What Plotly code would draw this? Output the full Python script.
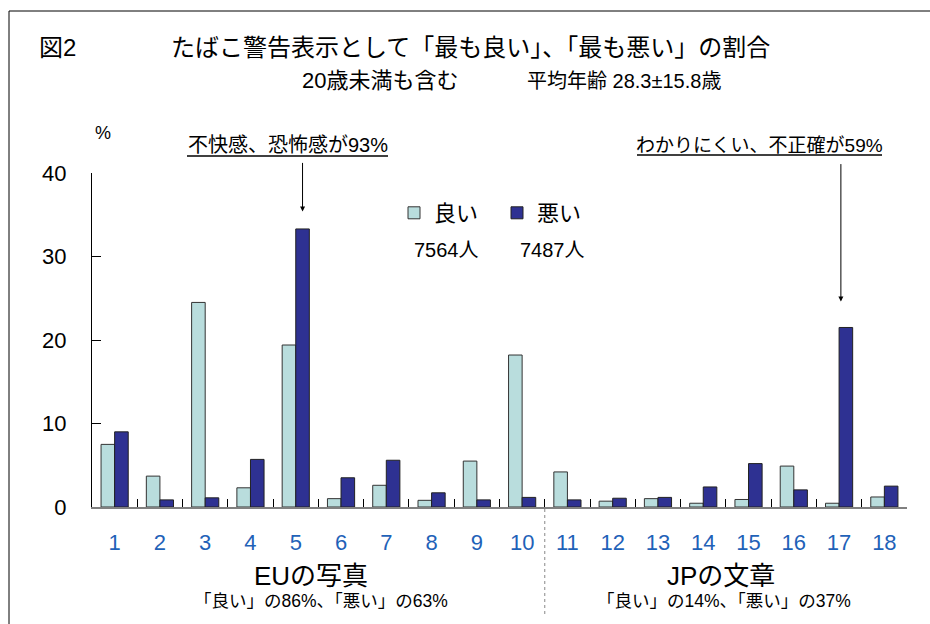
import plotly.graph_objects as go

categories = [str(i) for i in range(1, 19)]
good = [7.5, 3.7, 24.5, 2.3, 19.4, 1.0, 2.6, 0.8, 5.5, 18.2,
        4.2, 0.7, 1.0, 0.45, 0.9, 4.9, 0.45, 1.2]
bad = [9.0, 0.85, 1.1, 5.7, 33.3, 3.5, 5.6, 1.7, 0.85, 1.15,
       0.85, 1.05, 1.15, 2.4, 5.2, 2.05, 21.5, 2.5]
series_names = ["良い", "悪い"]
counts = ["7564人", "7487人"]
y_ticks = [0, 10, 20, 30, 40]

W, H = 930, 624
L, R, T, B = 92, 23, 173, 117
PW, PH = W - L - R, H - T - B


def px(x):
    return (x - L) / PW


def py(y):
    return (H - B - y) / PH


FONT = "Liberation Sans, Arial, Noto Sans CJK JP, sans-serif"
GOOD_C = "#B9DDDD"
BAD_C = "#2E3192"

fig = go.Figure()
fig.add_trace(go.Bar(x=categories, y=good, name=series_names[0],
                     marker=dict(color=GOOD_C, line=dict(color="#333333", width=1))))
fig.add_trace(go.Bar(x=categories, y=bad, name=series_names[1],
                     marker=dict(color=BAD_C, line=dict(color="#222222", width=1))))

fig.update_layout(
    width=W, height=H,
    margin=dict(l=L, r=R, t=T, b=B),
    paper_bgcolor="white", plot_bgcolor="white",
    barmode="group", bargap=0.40, bargroupgap=0,
    font=dict(family=FONT, color="black"),
    showlegend=True,
    legend=dict(orientation="h", x=px(394), y=py(213), xanchor="left", yanchor="middle",
                font=dict(size=22, family=FONT), bgcolor="rgba(0,0,0,0)",
                entrywidth=58, entrywidthmode="pixels", itemwidth=30),
)
fig.update_xaxes(
    type="category", showline=True, linecolor="#808080", linewidth=2,
    ticks="inside", tickson="boundaries", ticklen=8, tickcolor="black", tickwidth=1,
    tickfont=dict(size=22, color="#1F62B8", family=FONT), ticklabelstandoff=15,
    showgrid=False, zeroline=False, fixedrange=True,
)
fig.update_yaxes(
    range=[0, 40], tickvals=y_ticks, showline=True, linecolor="black", linewidth=1,
    ticks="inside", ticklen=9, tickcolor="black", tickwidth=1,
    tickfont=dict(size=22, color="black", family=FONT), ticklabelstandoff=20,
    showgrid=False, zeroline=False, fixedrange=True,
)

shapes = [
    # outer frame
    dict(type="rect", xref="paper", yref="paper", x0=px(9), x1=px(960), y0=py(660), y1=py(11),
         line=dict(color="black", width=1), fillcolor="rgba(0,0,0,0)", layer="below"),
    # divider between groups
    dict(type="line", xref="x", yref="paper", x0=9.5, x1=9.5, y0=py(509), y1=py(616),
         line=dict(color="#888888", width=1, dash="dot")),
    # underlines of the callouts
    dict(type="line", xref="paper", yref="paper", x0=px(187), x1=px(388), y0=py(156), y1=py(156),
         line=dict(color="black", width=1.5)),
    dict(type="line", xref="paper", yref="paper", x0=px(637), x1=px(882), y0=py(155), y1=py(155),
         line=dict(color="black", width=1.5)),
]
fig.update_layout(shapes=shapes)

ann = []


def text(x, y, s, size, anchor="center", color="black"):
    ann.append(dict(xref="paper", yref="paper", x=px(x), y=py(y), text=s, showarrow=False,
                    xanchor=anchor, yanchor="middle", font=dict(size=size, color=color, family=FONT)))


text(37, 47, "図2", 24, "left")
text(470, 47, "たばこ警告表示として「最も良い」、「最も悪い」の割合", 24)
text(380, 80, "20歳未満も含む", 22)
text(624, 81, "平均年齢 28.3±15.8歳", 20)
text(103, 133, "%", 18)
text(288, 145, "不快感、恐怖感が93%", 20)
text(759, 145, "わかりにくい、不正確が59%", 19)
text(446, 250, counts[0], 20)
text(552, 250, counts[1], 20)
text(311, 576, "EUの写真", 26)
text(321, 601, "「良い」の86%、「悪い」の63%", 17.5)
text(721, 576, "JPの文章", 26)
text(724, 601, "「良い」の14%、「悪い」の37%", 17.5)

# arrows pointing at the highlighted bars
ann.append(dict(xref="x", yref="y", x=4.15, y=35.4, ax=0, ay=-50, axref="pixel", ayref="pixel",
                text="", showarrow=True, arrowhead=2, arrowsize=1, arrowwidth=1, arrowcolor="black"))
ann.append(dict(xref="x", yref="y", x=16.04, y=24.6, ax=0, ay=-139, axref="pixel", ayref="pixel",
                text="", showarrow=True, arrowhead=2, arrowsize=1, arrowwidth=1, arrowcolor="black"))
fig.update_layout(annotations=ann)

fig.write_html("out.html")
